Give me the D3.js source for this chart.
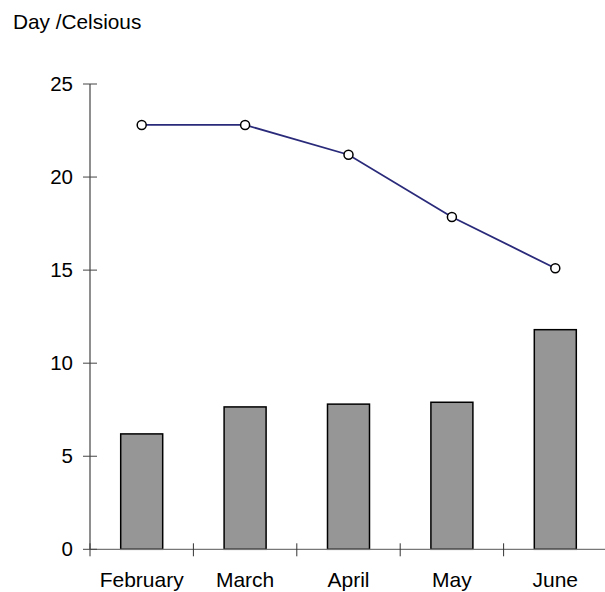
<!DOCTYPE html>
<html><head><meta charset="utf-8">
<script src="https://cdn.jsdelivr.net/npm/d3@7"></script>
<style>body{margin:0;background:#fff;overflow:hidden}svg{display:block}text{font-family:"Liberation Sans",Arial,sans-serif;fill:#000}</style>
</head><body><svg width="605" height="592"></svg>
<script>
const categories = ["February","March","April","May","June"];
const barValues = [6.2, 7.65, 7.8, 7.9, 11.8];
const lineValues = [22.8, 22.8, 21.2, 17.85, 15.1];
const yTicks = [0,5,10,15,20,25];
const yTitle = "Day /Celsious";

const svg = d3.select("svg");
const x = d3.scaleBand().domain(categories).range([90, 607]);
const y = d3.scaleLinear().domain([0,25]).range([549.3, 84]);

svg.append("text").attr("x",13).attr("y",29).attr("font-size",20.8).text(yTitle);

// bars
const bw = 42;
svg.selectAll("rect.bar").data(categories).enter().append("rect")
  .attr("x", d => x(d) + x.bandwidth()/2 - bw/2)
  .attr("y", (d,i) => y(barValues[i]))
  .attr("width", bw)
  .attr("height", (d,i) => y(0) - y(barValues[i]))
  .attr("fill","#969696").attr("stroke","#000").attr("stroke-width",1.5);

// x axis
svg.append("line").attr("x1",90).attr("x2",605).attr("y1",y(0)).attr("y2",y(0)).attr("stroke","#777").attr("stroke-width",1.2);
const bounds = categories.map(d => x(d));
svg.selectAll("line.xt").data(bounds).enter().append("line")
  .attr("x1",d=>d).attr("x2",d=>d).attr("y1",y(0)-6).attr("y2",y(0)+7)
  .attr("stroke","#333").attr("stroke-width",1);
svg.selectAll("text.xl").data(categories).enter().append("text")
  .attr("x", d => x(d)+x.bandwidth()/2).attr("y",587).attr("text-anchor","middle")
  .attr("font-size",21).text(d=>d);

// y axis
svg.append("line").attr("x1",90).attr("x2",90).attr("y1",y(25)).attr("y2",y(0)).attr("stroke","#444").attr("stroke-width",1.2);
svg.selectAll("line.yt").data(yTicks).enter().append("line")
  .attr("x1",83).attr("x2",97).attr("y1",d=>y(d)).attr("y2",d=>y(d)).attr("stroke","#444").attr("stroke-width",1);
svg.selectAll("text.yl").data(yTicks).enter().append("text")
  .attr("x",73).attr("y",d=>y(d)+7).attr("text-anchor","end").attr("font-size",20.5).text(d=>d);

// line
const line = d3.line().x((d,i)=>x(categories[i])+x.bandwidth()/2).y(d=>y(d));
svg.append("path").datum(lineValues).attr("d",line).attr("fill","none").attr("stroke","#2a2a7a").attr("stroke-width",1.8);
svg.selectAll("circle").data(lineValues).enter().append("circle")
  .attr("cx",(d,i)=>x(categories[i])+x.bandwidth()/2).attr("cy",d=>y(d)).attr("r",4.5)
  .attr("fill","#fff").attr("stroke","#000").attr("stroke-width",1.5);
</script></body></html>
